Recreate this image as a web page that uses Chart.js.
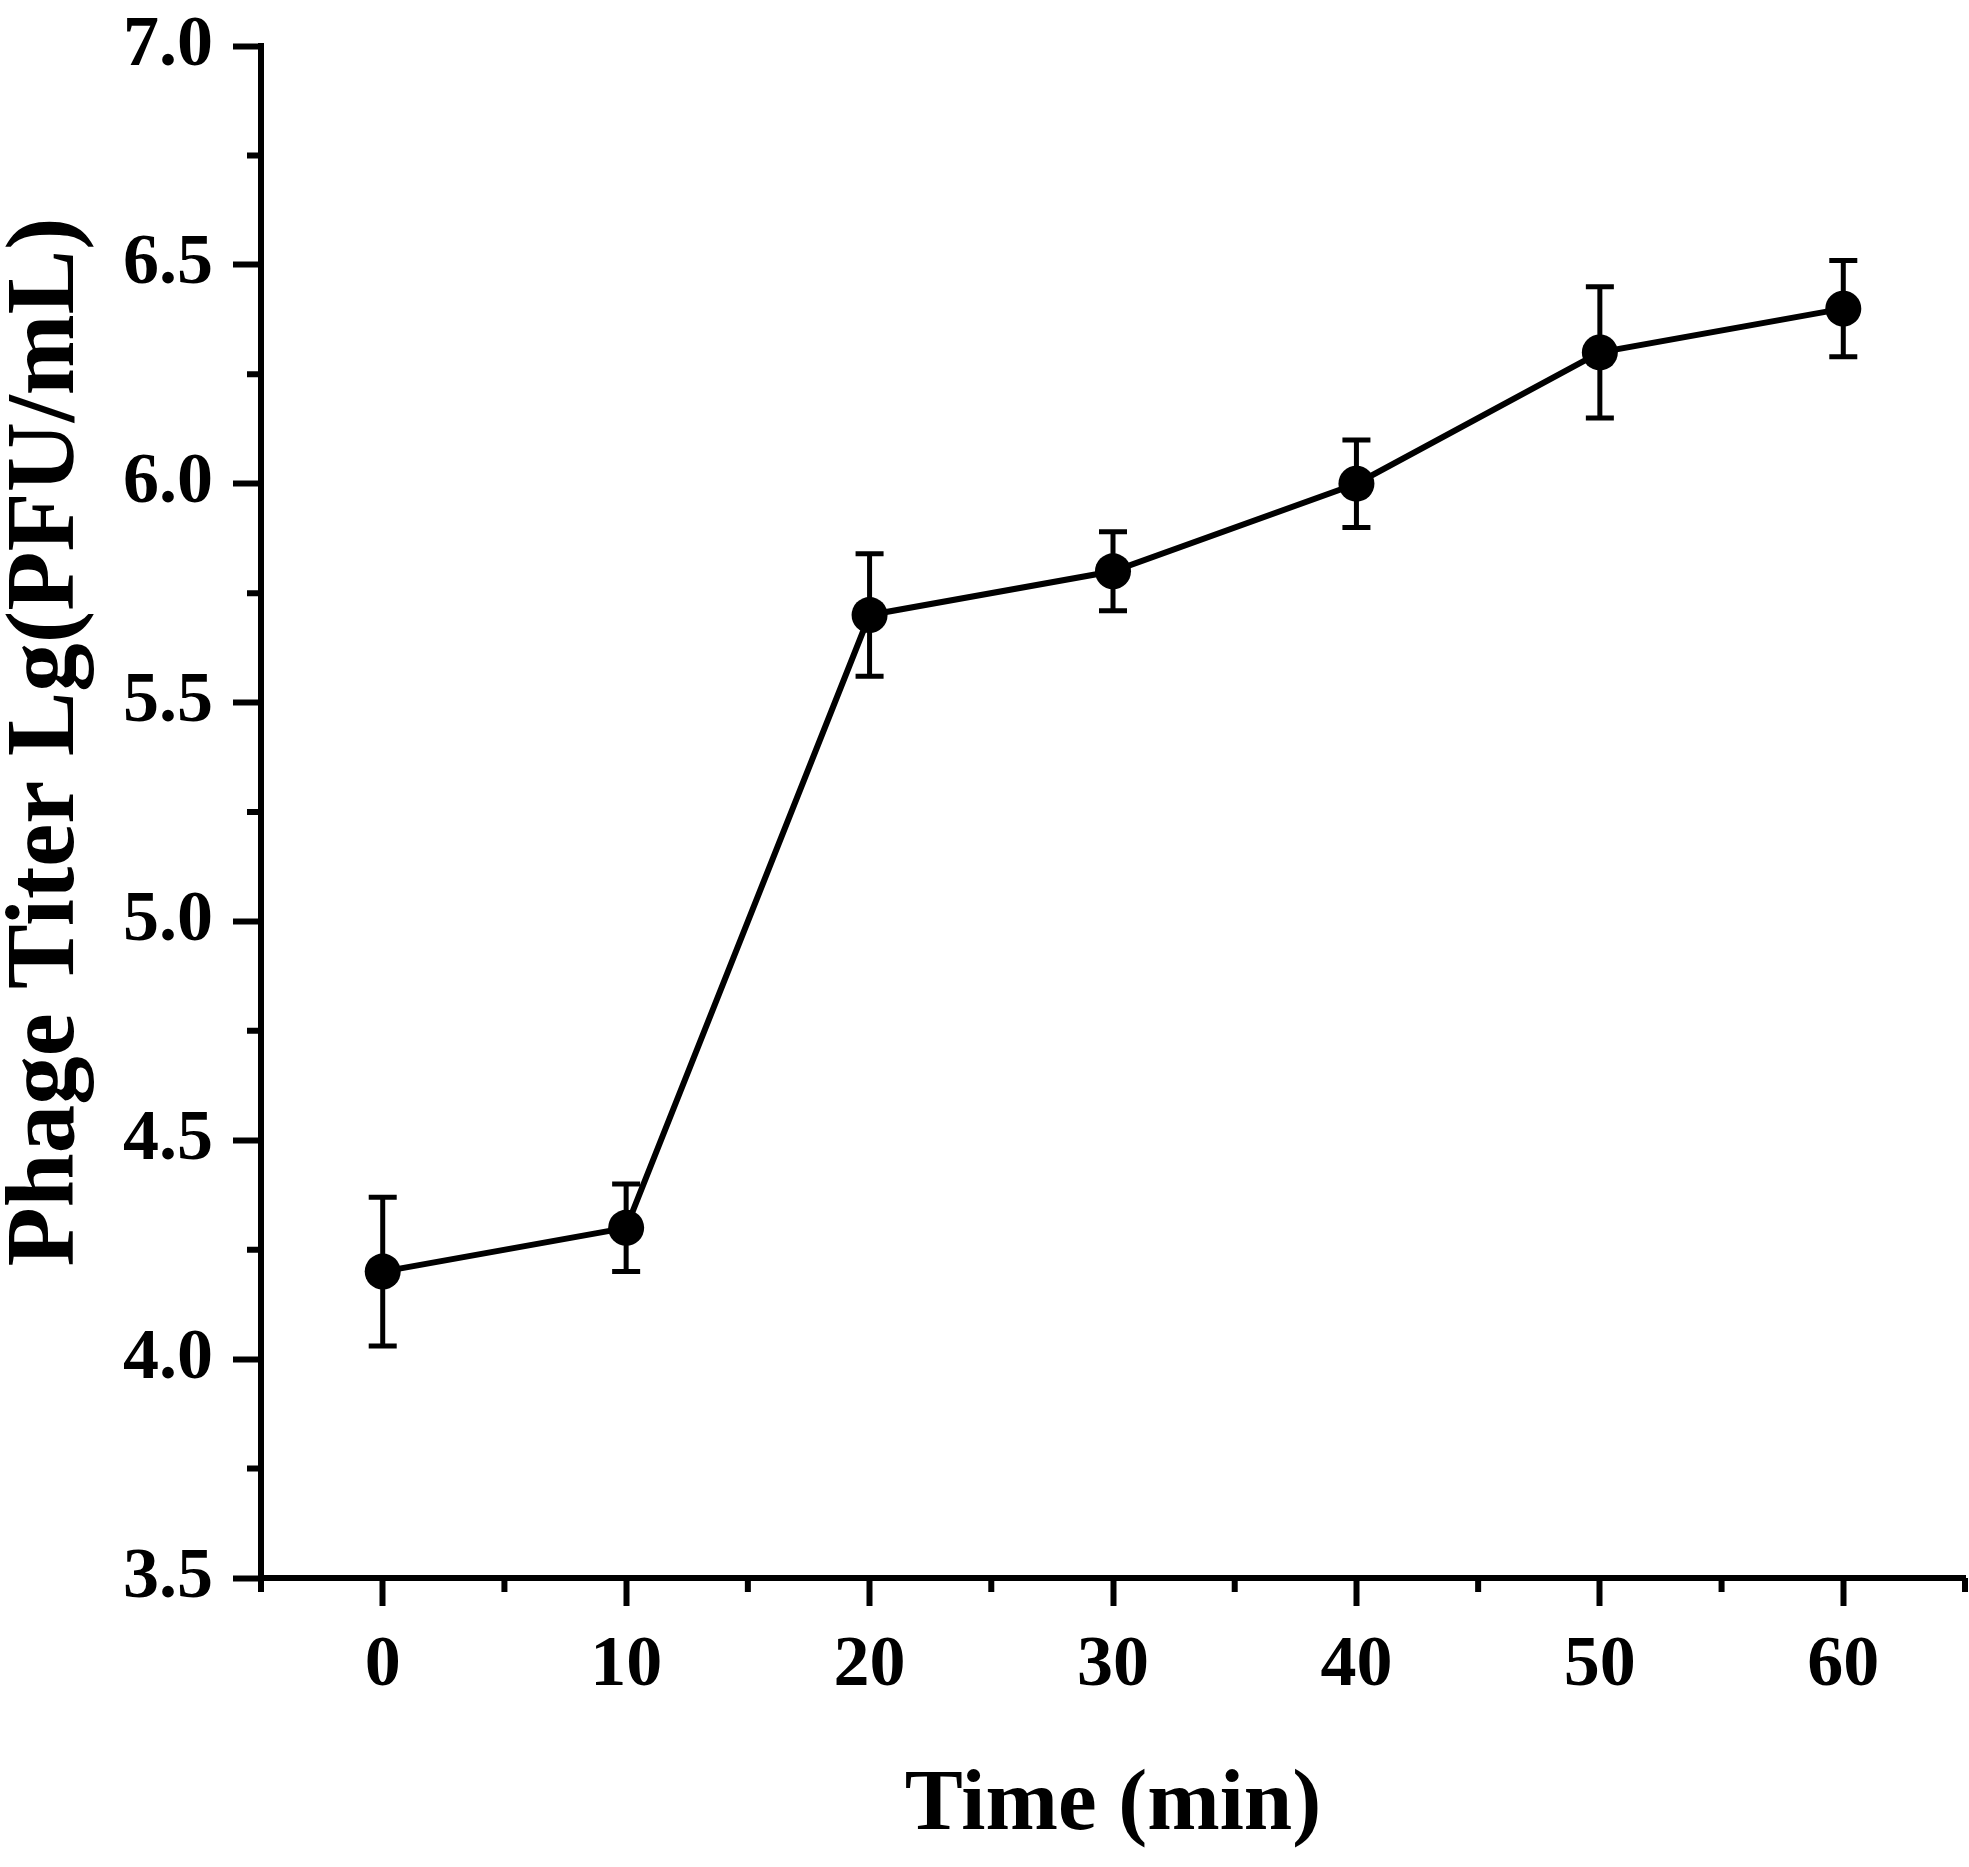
<!DOCTYPE html>
<html>
<head>
<meta charset="utf-8">
<script src="https://cdn.jsdelivr.net/npm/chart.js@4.4.0/dist/chart.umd.min.js"></script>
<style>
  body { margin: 0; background: #fff; }
  canvas { display: block; }
</style>
</head>
<body>
<canvas id="line-chart" width="1969" height="1867"></canvas>
<script>
// valeurs
var tempsMin = [0, 10, 20, 30, 40, 50, 60];
var titre = [4.2, 4.3, 5.7, 5.8, 6.0, 6.3, 6.4];
var erreur = [0.17, 0.10, 0.14, 0.09, 0.10, 0.15, 0.11];

var ticksX = [0, 10, 20, 30, 40, 50, 60];
var ticksXMineurs = [-5, 5, 15, 25, 35, 45, 55, 65];
var ticksYMineurs = [3.75, 4.25, 4.75, 5.25, 5.75, 6.25, 6.75];

var titreY = 'Phage Titer Lg(PFU/mL)';

var points = tempsMin.map(function (t, i) { return { x: t, y: titre[i] }; });

// barres d'erreur
var barresErreur = {
  id: 'barresErreur',
  beforeDatasetsDraw: function (chart) {
    var ctx = chart.ctx;
    var sx = chart.scales.x;
    var sy = chart.scales.y;
    ctx.save();
    ctx.strokeStyle = '#000';
    ctx.lineWidth = 5;
    for (var i = 0; i < tempsMin.length; i++) {
      var px = sx.getPixelForValue(tempsMin[i]);
      var haut = sy.getPixelForValue(titre[i] + erreur[i]);
      var bas = sy.getPixelForValue(titre[i] - erreur[i]);
      ctx.beginPath();
      ctx.moveTo(px, haut);
      ctx.lineTo(px, bas);
      ctx.moveTo(px - 14, haut);
      ctx.lineTo(px + 14, haut);
      ctx.moveTo(px - 14, bas);
      ctx.lineTo(px + 14, bas);
      ctx.stroke();
    }
    ctx.restore();
  }
};

// petites graduations + titre de l'axe Y (un peu au-dessus du centre)
var graduationsMineures = {
  id: 'graduationsMineures',
  afterDraw: function (chart) {
    var ctx = chart.ctx;
    var zone = chart.chartArea;
    ctx.save();
    ctx.strokeStyle = '#000';
    ctx.lineWidth = 6;
    ctx.beginPath();
    ticksXMineurs.forEach(function (v) {
      var px = chart.scales.x.getPixelForValue(v);
      ctx.moveTo(px, zone.bottom);
      ctx.lineTo(px, zone.bottom + 14);
    });
    ticksYMineurs.forEach(function (v) {
      var py = chart.scales.y.getPixelForValue(v);
      ctx.moveTo(zone.left, py);
      ctx.lineTo(zone.left - 14, py);
    });
    ctx.stroke();

    ctx.translate(48, chart.scales.y.getPixelForValue(5.41));
    ctx.rotate(-Math.PI / 2);
    ctx.fillStyle = '#000';
    ctx.font = 'bold 97px "Liberation Serif"';
    ctx.textAlign = 'center';
    ctx.textBaseline = 'middle';
    ctx.fillText(titreY, 0, 0);
    ctx.restore();
  }
};

var policeTicks = { family: 'Liberation Serif', size: 72, weight: 'bold' };

new Chart(document.getElementById("line-chart"),
{
  type: 'line',
  data:
  {
    datasets:
    [{
      data: points,
      borderColor: '#000',
      borderWidth: 6,
      backgroundColor: '#000',
      pointRadius: 18,
      pointBackgroundColor: '#000',
      pointBorderWidth: 0,
      tension: 0,
      fill: false,
      clip: false
    }]
  },
  options:
  {
    responsive: false,
    devicePixelRatio: 1,
    animation: false,
    layout: { autoPadding: false, padding: { top: 46, right: 4, left: 0, bottom: 0 } },
    plugins:
    {
      legend: { display: false },
      tooltip: { enabled: false }
    },
    scales:
    {
      x:
      {
        type: 'linear',
        min: -5,
        max: 65,
        afterBuildTicks: function (scale) {
          scale.ticks = ticksX.map(function (v) { return { value: v }; });
        },
        afterFit: function (scale) {
          scale.height = 289;
          scale.paddingLeft = 0;
          scale.paddingRight = 0;
        },
        border: { display: true, color: '#000', width: 6 },
        grid: { drawOnChartArea: false, drawTicks: true, tickLength: 28, tickColor: '#000', tickWidth: 6 },
        ticks: { color: '#000', font: policeTicks, padding: 17, autoSkip: false, maxRotation: 0 },
        title:
        {
          display: true,
          text: 'Time (min)',
          color: '#000',
          font: { family: 'Liberation Serif', size: 87, weight: 'bold', lineHeight: 1 },
          padding: { top: 0, bottom: 17 }
        }
      },
      y:
      {
        min: 3.5,
        max: 7.0,
        afterFit: function (scale) {
          scale.width = 261;
          scale.paddingTop = 0;
          scale.paddingBottom = 0;
        },
        border: { display: true, color: '#000', width: 6 },
        grid: { drawOnChartArea: false, drawTicks: true, tickLength: 28, tickColor: '#000', tickWidth: 6 },
        ticks:
        {
          stepSize: 0.5,
          color: '#000',
          font: policeTicks,
          padding: 20,
          callback: function (v) { return v.toFixed(1); }
        }
      }
    }
  },
  plugins: [barresErreur, graduationsMineures]
});
</script>
</body>
</html>
